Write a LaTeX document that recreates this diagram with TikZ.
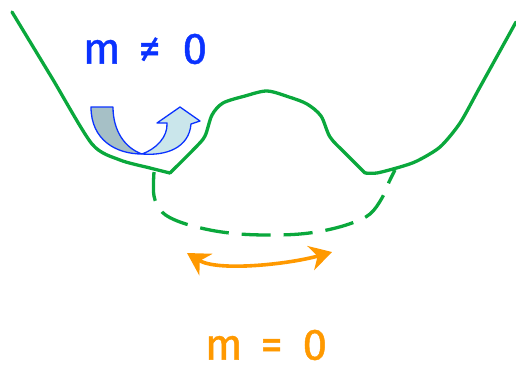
\documentclass[tikz,border=0pt]{standalone}
\usepackage{fontspec}
\setmainfont{Fira Sans}
\newfontfamily\labelfont{Fira Sans}[FakeBold=1.0]
\usepackage{xcolor}
\usepackage{tikz}
\usetikzlibrary{arrows.meta,calc}

\definecolor{curvegreen}{RGB}{10,168,60}
\definecolor{massorange}{RGB}{255,153,0}
\definecolor{massblue}{RGB}{10,50,255}
\definecolor{turndark}{RGB}{166,192,198}
\definecolor{turnlight}{RGB}{202,230,235}

\begin{document}
\begin{tikzpicture}[x=1pt, y=-1pt, >=Stealth]
\tikzset{
  potential/.style={draw=curvegreen, line width=3.3pt, line join=round, line cap=round},
  valley/.style={draw=curvegreen, line width=3.3pt, dash pattern=on 29pt off 13pt},
  turn/.style={draw=massblue, line width=1.3pt, line join=round},
  swing/.style={draw=massorange, line width=3.6pt, arrows={Stealth[length=22pt, width=25pt, inset=7pt]-Stealth[length=22pt, width=25pt, inset=7pt]}},
  label/.style={font=\labelfont\fontsize{44}{44}\selectfont, inner sep=0pt},
}
\useasboundingbox (0,0) rectangle (516,370);

% Potential walls and hump
\draw[potential] plot[smooth, tension=0.45] coordinates {(12,12) (52,78) (92,144) (120,160) (150,168) (170,173)};
\draw[potential] plot[smooth, tension=0.5] coordinates {(170,173) (195,148) (205,136) (212,115) (223,103) (245,96) (267,91) (289,97) (307,104) (321,116) (330,137) (345,153) (365,173)};
\draw[potential] plot[smooth, tension=0.45] coordinates {(365,173) (377,173) (400,167) (417,161) (440,147) (460,123) (480,87) (516,22)};

% Flat valley (dashed)
\draw[valley] plot[smooth, tension=0.6] coordinates {(154,172) (154,196) (162,212) (180,222) (210,230) (240,234) (270,235) (300,234) (327,230) (352,223) (370,214) (382,198) (389,182) (395,170)};

% U-turn arrow
\path[turn, fill=turndark] (91,107) -- (113,107) .. controls (113,131) and (125,148) .. (142,154)
  .. controls (116,154) and (91,140) .. (91,107) -- cycle;
\path[turn, fill=turnlight] (142,154) .. controls (166,156) and (189,148) .. (191,124)
  -- (200,121) -- (180,107) -- (157,123) -- (167,123)
  .. controls (168,137) and (156,149) .. (142,154) -- cycle;

% Oscillation along the valley
\coordinate (swingL) at (187,253);
\coordinate (swingR) at (332,252);
\draw[swing] (swingL) .. controls (218,272) and (290,264) .. (swingR);

% Labels
\node (neq) [label, text=massblue] at (145,49) {m\hspace{18pt}≠\hspace{22pt}0};
\node (eq) [label, text=massorange] at (266,345) {m\hspace{18pt}=\hspace{20pt}0};

\end{tikzpicture}
\end{document}
